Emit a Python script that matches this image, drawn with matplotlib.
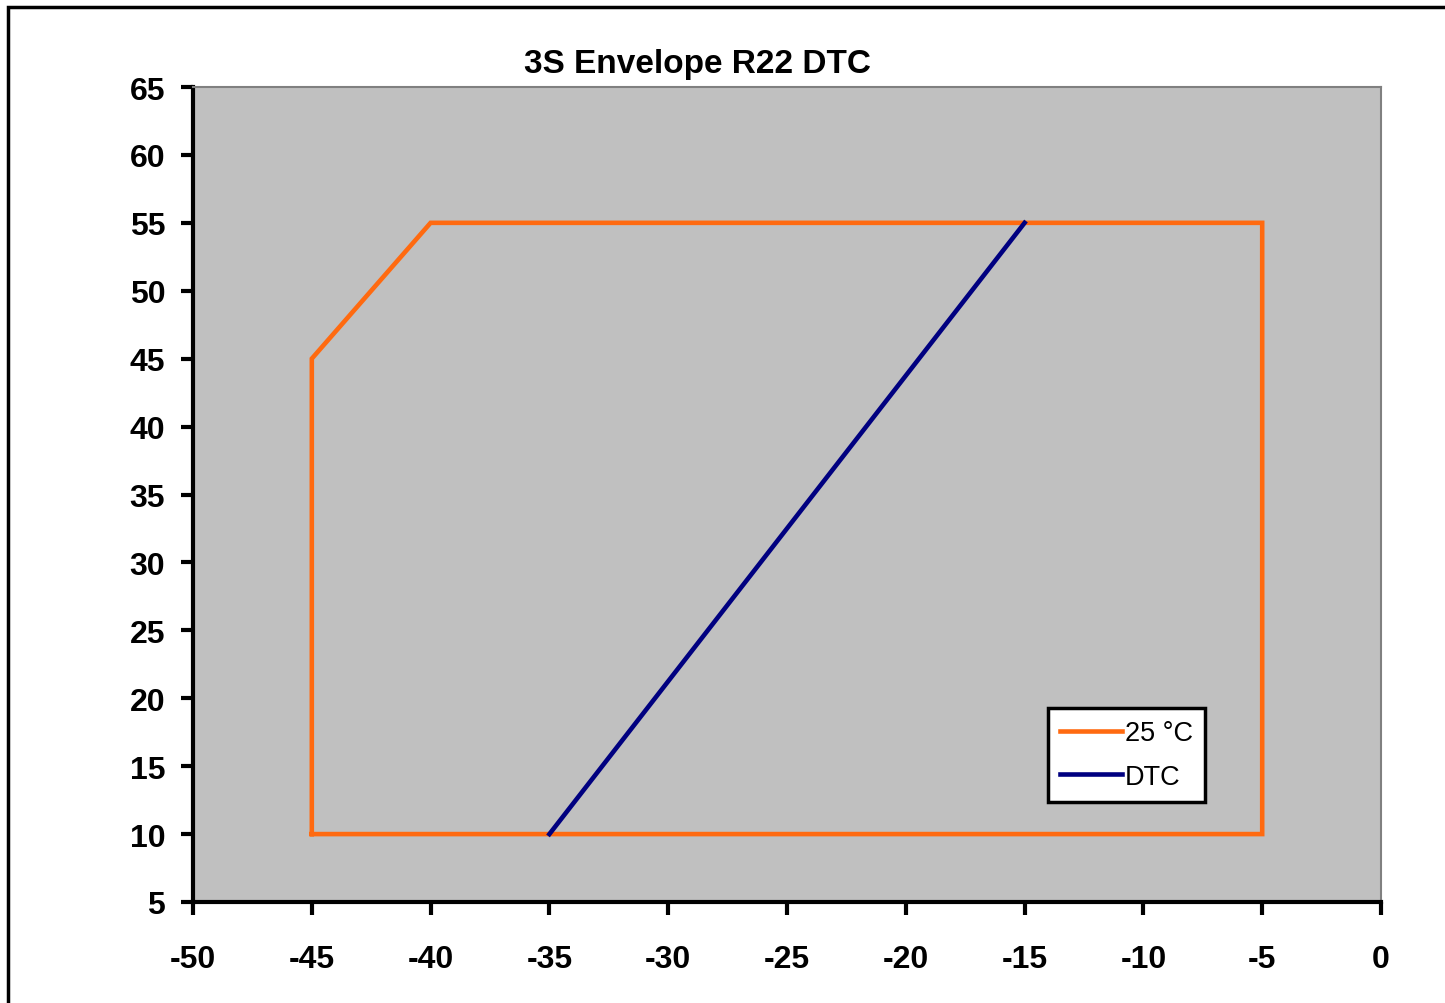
import matplotlib
matplotlib.use("Agg")
import matplotlib.pyplot as plt
from matplotlib.patches import Rectangle

plt.rcParams['font.family'] = ['Liberation Sans', 'DejaVu Sans']
plt.rcParams['axes.unicode_minus'] = False

# envelope 25 °C
env_x = [-45, -45, -40, -5, -5, -45]
env_y = [10, 45, 55, 55, 10, 10]
# DTC line
dtc_x = [-35, -15]
dtc_y = [10, 55]

x_ticks = list(range(-50, 1, 5))
y_ticks = list(range(5, 66, 5))

fig = plt.figure(figsize=(14.45, 10.04), dpi=100)
fig.patch.set_facecolor("white")
ax = fig.add_axes([193/1445, 1-903/1004, (1381-193)/1445, (903-88)/1004])
ax.set_facecolor("#C0C0C0")

ax.plot(env_x, env_y, color="#FF6A10", lw=3.3, label="25 °C", solid_joinstyle="miter")
ax.plot(dtc_x, dtc_y, color="#000080", lw=3.3, label="DTC")

ax.set_xlim(-50, 0)
ax.set_ylim(5, 65)
ax.set_xticks(x_ticks)
ax.set_yticks(y_ticks)
ax.tick_params(axis="both", direction="out", length=9, width=3, labelsize=23)
ax.tick_params(axis="x", pad=21.5)
ax.tick_params(axis="y", pad=11)
for lab in ax.get_xticklabels() + ax.get_yticklabels():
    lab.set_fontweight("bold")

for side in ["left", "bottom"]:
    ax.spines[side].set_color("black")
    ax.spines[side].set_linewidth(3)
for side in ["top", "right"]:
    ax.spines[side].set_color("#808080")
    ax.spines[side].set_linewidth(1.5)

leg = ax.legend(loc="lower right", bbox_to_anchor=((1205-193)/(1381-193), (903-803)/(903-88)),
                fontsize=19.5, frameon=True, fancybox=False, handlelength=2.3,
                handletextpad=0.1, borderpad=0.45, labelspacing=0.65, borderaxespad=0)
leg.get_frame().set_edgecolor("black")
leg.get_frame().set_linewidth(2.5)
leg.get_frame().set_facecolor("white")
leg.get_frame().set_alpha(1)

fig.text(697/1445, 1-65/1004, "3S Envelope R22 DTC", ha="center", va="center",
         fontsize=24, fontweight="bold")

# outer chart border
fig.patches.append(Rectangle((8/1445, -0.01), 1.02, 1-8/1004+0.01, transform=fig.transFigure,
                             fill=False, edgecolor="black", lw=2.5))

fig.savefig("out.png", dpi=100)
